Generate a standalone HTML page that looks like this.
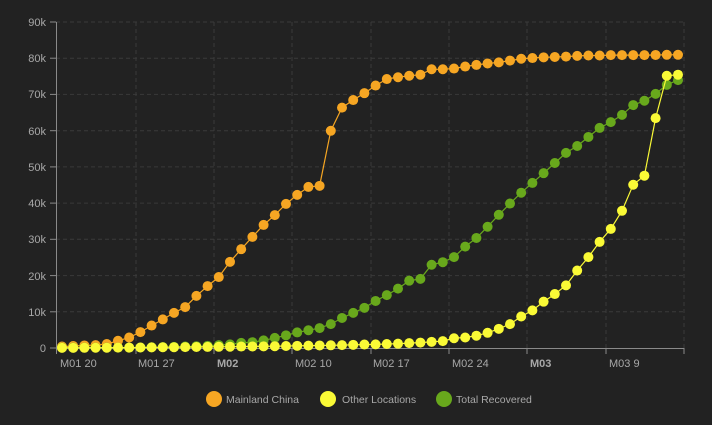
<!DOCTYPE html>
<html><head><meta charset="utf-8"><style>
html,body{margin:0;padding:0;background:#222222;width:712px;height:425px;overflow:hidden}
svg{display:block;font-family:"Liberation Sans",sans-serif}
.yl{fill:#a8a8a8;font-size:11px;text-anchor:end}
.xl{fill:#a8a8a8;font-size:11px}
.lg{fill:#a8a8a8;font-size:10.5px}
</style></head><body>
<svg id="c" width="712" height="425" viewBox="0 0 712 425">
<g stroke="#3a3a3a" stroke-dasharray="4,3" stroke-width="1">
<line x1="56" x2="684" y1="22" y2="22"/><line x1="56" x2="684" y1="58.2" y2="58.2"/><line x1="56" x2="684" y1="94.4" y2="94.4"/><line x1="56" x2="684" y1="130.7" y2="130.7"/><line x1="56" x2="684" y1="166.9" y2="166.9"/><line x1="56" x2="684" y1="203.1" y2="203.1"/><line x1="56" x2="684" y1="239.3" y2="239.3"/><line x1="56" x2="684" y1="275.6" y2="275.6"/><line x1="56" x2="684" y1="311.8" y2="311.8"/>
<line x1="136" x2="136" y1="22" y2="348"/><line x1="214" x2="214" y1="22" y2="348"/><line x1="292" x2="292" y1="22" y2="348"/><line x1="371" x2="371" y1="22" y2="348"/><line x1="449" x2="449" y1="22" y2="348"/><line x1="527" x2="527" y1="22" y2="348"/><line x1="606" x2="606" y1="22" y2="348"/><line x1="684" x2="684" y1="22" y2="348"/>
</g>
<g stroke="#8a8a8a" stroke-width="1">
<line x1="56.5" x2="56.5" y1="22" y2="348"/>
<line x1="56" x2="684" y1="348.5" y2="348.5"/>
<line x1="50" x2="56" y1="22" y2="22"/><line x1="50" x2="56" y1="58.2" y2="58.2"/><line x1="50" x2="56" y1="94.4" y2="94.4"/><line x1="50" x2="56" y1="130.7" y2="130.7"/><line x1="50" x2="56" y1="166.9" y2="166.9"/><line x1="50" x2="56" y1="203.1" y2="203.1"/><line x1="50" x2="56" y1="239.3" y2="239.3"/><line x1="50" x2="56" y1="275.6" y2="275.6"/><line x1="50" x2="56" y1="311.8" y2="311.8"/><line x1="50" x2="56" y1="348" y2="348"/>
<line x1="56.5" x2="56.5" y1="348" y2="354"/><line x1="136" x2="136" y1="348" y2="354"/><line x1="214" x2="214" y1="348" y2="354"/><line x1="292" x2="292" y1="348" y2="354"/><line x1="371" x2="371" y1="348" y2="354"/><line x1="449" x2="449" y1="348" y2="354"/><line x1="527" x2="527" y1="348" y2="354"/><line x1="606" x2="606" y1="348" y2="354"/><line x1="684" x2="684" y1="348" y2="354"/>
</g>
<text class="yl" x="46" y="26">90k</text><text class="yl" x="46" y="62">80k</text><text class="yl" x="46" y="98">70k</text><text class="yl" x="46" y="135">60k</text><text class="yl" x="46" y="171">50k</text><text class="yl" x="46" y="207">40k</text><text class="yl" x="46" y="243">30k</text><text class="yl" x="46" y="280">20k</text><text class="yl" x="46" y="316">10k</text><text class="yl" x="46" y="352">0</text>
<text class="xl" x="60" y="367">M01 20</text><text class="xl" x="138" y="367">M01 27</text><text class="xl" x="217" y="367" font-weight="bold">M02</text><text class="xl" x="295" y="367">M02 10</text><text class="xl" x="373" y="367">M02 17</text><text class="xl" x="452" y="367">M02 24</text><text class="xl" x="530" y="367" font-weight="bold">M03</text><text class="xl" x="609" y="367">M03 9</text>
<g id="series"></g>
<circle cx="214" cy="399" r="8" fill="#f6a623"/><text class="lg" x="226" y="403">Mainland China</text>
<circle cx="328" cy="399" r="8" fill="#fafa36"/><text class="lg" x="342" y="403">Other Locations</text>
<circle cx="444" cy="399" r="8" fill="#68a81c"/><text class="lg" x="456" y="403">Total Recovered</text>
</svg>
<script>
var orange=[0.4,0.55,0.7,0.8,1.1,2.0,2.9,4.4,6.2,7.9,9.7,11.3,14.4,17.1,19.6,23.8,27.3,30.7,34.0,36.7,39.8,42.3,44.5,44.8,60.0,66.4,68.5,70.4,72.5,74.3,74.8,75.2,75.5,77.0,77.0,77.2,77.75,78.2,78.6,78.9,79.4,79.9,80.1,80.3,80.4,80.5,80.7,80.8,80.8,80.9,80.9,80.9,80.9,80.95,81.0,81.0];
var yellow=[0.05,0.05,0.06,0.07,0.08,0.1,0.12,0.14,0.17,0.2,0.22,0.25,0.28,0.3,0.33,0.36,0.4,0.43,0.46,0.5,0.55,0.6,0.65,0.7,0.75,0.8,0.88,0.95,1.0,1.1,1.2,1.35,1.5,1.7,1.9,2.7,2.9,3.4,4.2,5.3,6.6,8.7,10.4,12.8,14.9,17.3,21.4,25.1,29.3,32.9,37.9,45.1,47.6,63.5,75.2,75.5];
var green=[0.1,0.1,0.1,0.1,0.1,0.1,0.1,0.15,0.2,0.25,0.3,0.4,0.5,0.6,0.8,1.0,1.4,1.6,2.1,2.8,3.5,4.3,4.9,5.5,6.6,8.3,9.7,11.1,13.0,14.6,16.4,18.6,19.1,23.0,23.7,25.1,28.0,30.4,33.5,36.8,39.9,42.9,45.6,48.3,51.1,53.9,55.8,58.3,60.8,62.4,64.4,67.1,68.3,70.2,72.7,74.0];
var g=document.getElementById('series'),ns='http://www.w3.org/2000/svg';
function draw(d,col){var pts=[];for(var i=0;i<d.length;i++){pts.push([62+i*11.2,348-d[i]*3.62]);}
var pl=document.createElementNS(ns,'polyline');pl.setAttribute('points',pts.map(function(p){return p[0].toFixed(1)+','+p[1].toFixed(1)}).join(' '));pl.setAttribute('fill','none');pl.setAttribute('stroke',col);pl.setAttribute('stroke-width','1.2');g.appendChild(pl);
pts.forEach(function(p){var c=document.createElementNS(ns,'circle');c.setAttribute('cx',p[0]);c.setAttribute('cy',p[1]);c.setAttribute('r','5');c.setAttribute('fill',col);g.appendChild(c);});}
draw(orange,'#f6a623');draw(green,'#68a81c');draw(yellow,'#fafa36');
</script>
</body></html>
